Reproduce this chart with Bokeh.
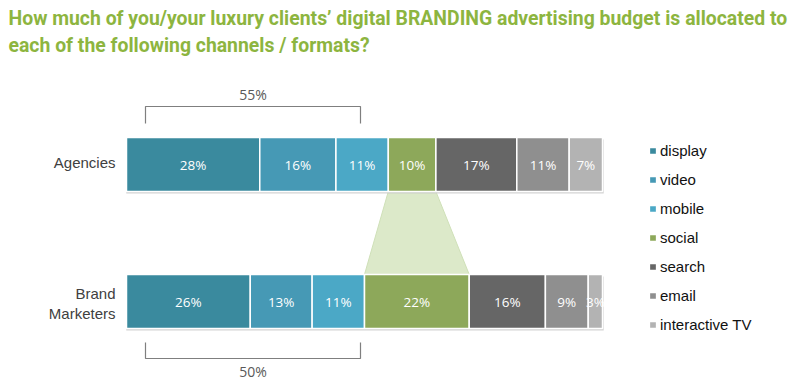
from bokeh.plotting import figure
from bokeh.models import Range1d, Label, Legend, LegendItem, ColumnDataSource
from bokeh.embed import file_html
from bokeh.resources import INLINE
from bokeh.core.properties import value

groups = ["Agencies", "Brand Marketers"]
channels = ["display", "video", "mobile", "social", "search", "email", "interactive TV"]
agencies = [28, 16, 11, 10, 17, 11, 7]
brand = [26, 13, 11, 22, 16, 9, 3]
colors = ["#3a8a9e", "#4699b5", "#4ba8c6", "#8da85a", "#666666", "#8f8f8f", "#b3b3b3"]
bracket_totals = ["55%", "50%"]
title_lines = ["How much of you/your luxury clients\u2019 digital BRANDING advertising budget is allocated to",
               "each of the following channels / formats?"]

W, H = 791, 382
PX_PER_PCT = 4.76
X0 = 126  # canvas px of 0%
xs = -X0 / PX_PER_PCT
xe = (W - X0) / PX_PER_PCT

def ys(screen_y):
    return H - screen_y

def xpx(px):
    return (px - X0) / PX_PER_PCT

p = figure(width=W, height=H, output_backend="svg", toolbar_location=None,
           x_range=Range1d(xs, xe), y_range=Range1d(0, H),
           min_border=0, outline_line_color=None)
p.axis.visible = False
p.grid.visible = False

rows = [(agencies, ys(164)), (brand, ys(301))]
bar_h = 54

a_left = sum(agencies[:3]); a_right = a_left + agencies[3]
b_left = sum(brand[:3]); b_right = b_left + brand[3]
p.patch([a_left, a_right, b_right, b_left],
        [ys(191), ys(191), ys(274), ys(274)],
        fill_color="#dce9c9", line_color="#cfe0b8", line_width=1)

renderers = {}
for vals, yc in rows:
    p.rect(x=[50.1], y=[yc - 2], width=[100.3], height=[bar_h], fill_color="#c8c8c8",
           line_color=None, fill_alpha=0.8)
    lefts, rights = [], []
    acc = 0
    for v in vals:
        lefts.append(acc); acc += v; rights.append(acc)
    src = ColumnDataSource(dict(mid=[(l + r) / 2 for l, r in zip(lefts, rights)],
                                lab=[f"{v}%" for v in vals]))
    for i in range(len(vals)):
        r = p.hbar(y=[yc], left=[lefts[i]], right=[rights[i]], height=bar_h,
                   fill_color=colors[i], line_color="white", line_width=1.5)
        renderers.setdefault(channels[i], r)
    p.text(x="mid", y=yc, text="lab", source=src, text_color="white",
           text_font=value("Open Sans"), text_font_size="13.5px",
           text_align="center", text_baseline="middle")

def bracket(y_line, y_tick, label, y_label):
    x1, x2 = xpx(145), xpx(360)
    p.line([x1, x1, x2, x2], [y_tick, y_line, y_line, y_tick], line_color="#7f7f7f", line_width=1.2)
    p.text(x=[(x1 + x2) / 2], y=[y_label], text=[label], text_color="#595959",
           text_font=value("Open Sans"), text_font_size="14px",
           text_align="center", text_baseline="middle")

bracket(ys(106), ys(123), bracket_totals[0], ys(94))
bracket(ys(358), ys(342), bracket_totals[1], ys(371))

lab_x = xpx(115)
p.text(x=[lab_x], y=[ys(162)], text=[groups[0]], text_color="#404040",
       text_font=value("Liberation Sans"), text_font_size="15px",
       text_align="right", text_baseline="middle")
p.text(x=[lab_x, lab_x], y=[ys(293), ys(313)], text=["Brand", "Marketers"], text_color="#404040",
       text_font=value("Liberation Sans"), text_font_size="15px",
       text_align="right", text_baseline="middle")

for i, t in enumerate(title_lines):
    p.add_layout(Label(x=8, y=ys(18 + 27 * i), x_units="screen", y_units="data", text=t,
                       text_color="#8db53f", text_font="Roboto",
                       text_font_style="bold", text_font_size="19.4px",
                       text_baseline="middle"))

legend = Legend(items=[LegendItem(label=c, renderers=[renderers[c]]) for c in channels],
                location=(648, H - 334), orientation="vertical",
                glyph_width=9, glyph_height=9, label_height=20, spacing=9,
                label_text_font="Liberation Sans", label_text_font_size="15px",
                label_text_color="#111111", label_standoff=3,
                border_line_color=None, background_fill_alpha=0, padding=0, margin=0)
p.add_layout(legend)

open("out.html", "w").write(file_html(p, INLINE))
